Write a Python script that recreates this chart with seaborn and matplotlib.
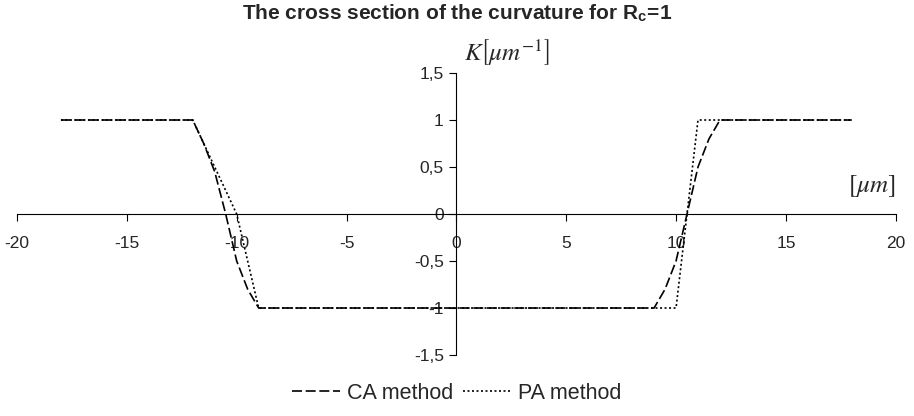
import numpy as np
import pandas as pd
import matplotlib
matplotlib.use("Agg")
import matplotlib.pyplot as plt
from matplotlib.ticker import FuncFormatter
import seaborn as sns

# Curvature cross sections for the two methods
ca_x = [-18, -12, -11.5, -11, -10.5, -10, -9.5, -9, 9, 9.5, 10, 10.5, 11, 11.5, 12, 18]
ca_k = [1, 1, 0.75, 0.45, 0.0, -0.5, -0.8, -1, -1, -0.8, -0.5, 0.0, 0.5, 0.8, 1, 1]

pa_x = [-18, -12, -11.5, -11, -10.5, -10, -9.5, -9, 10, 10.5, 11, 18]
pa_k = [1, 1, 0.75, 0.5, 0.25, 0.0, -0.5, -1, -1, 0.0, 1, 1]

x_ticks = [-20, -15, -10, -5, 0, 5, 10, 15, 20]
y_ticks = [-1.5, -1, -0.5, 0, 0.5, 1, 1.5]

df = pd.concat([
    pd.DataFrame({"x": ca_x, "K": ca_k, "method": "CA method"}),
    pd.DataFrame({"x": pa_x, "K": pa_k, "method": "PA method"}),
], ignore_index=True)

sns.set_style("white")
plt.rcParams["font.family"] = ["Liberation Sans", "DejaVu Sans"]
plt.rcParams["mathtext.fontset"] = "stix"

fig = plt.figure(figsize=(9.14, 4.16), dpi=100)
ax = fig.add_axes([0.0186, 0.1466, 0.9614, 0.6779])

sns.lineplot(
    data=df, x="x", y="K", hue="method", style="method",
    palette={"CA method": "black", "PA method": "black"},
    dashes={"CA method": (6, 2.2), "PA method": (1.2, 1.5)},
    estimator=None, sort=False, linewidth=1.2, ax=ax, legend=True,
)

ax.set_xlim(-20, 20)
ax.set_ylim(-1.5, 1.5)
ax.set_xticks(x_ticks)
ax.set_yticks(y_ticks)

fmt = FuncFormatter(lambda v, p: ("%g" % v).replace(".", ","))
ax.xaxis.set_major_formatter(fmt)
ax.yaxis.set_major_formatter(fmt)

for side in ["top", "right"]:
    ax.spines[side].set_visible(False)
ax.spines["left"].set_position(("data", 0))
ax.spines["bottom"].set_position(("data", 0))
for side in ["left", "bottom"]:
    ax.spines[side].set_color("black")
    ax.spines[side].set_linewidth(0.8)

ax.tick_params(axis="x", direction="out", length=5, width=0.8, color="black",
               pad=11, labelsize=12.5, bottom=True)
ax.tick_params(axis="y", direction="out", length=5, width=0.8, color="black",
               pad=4, labelsize=12.5, left=True)
ax.set_xlabel("")
ax.set_ylabel("")

ax.text(0.35, 1.72, r"$K\left[\mu m^{-1}\right]$", fontsize=18, ha="left", va="center")
ax.text(20, 0.3, r"$\left[\mu m\right]$", fontsize=18, ha="right", va="center")

fig.suptitle(r"The cross section of the curvature for R$_\mathregular{c}$=1",
             x=0.5, y=0.995, fontsize=15, fontweight="bold", va="top")

handles, labels = ax.get_legend_handles_labels()
ax.legend_.remove()
fig.legend(handles, labels, loc="center", bbox_to_anchor=(0.5, 0.055), ncol=2,
           frameon=False, fontsize=15.5, handlelength=2.2, handletextpad=0.35,
           columnspacing=0.45)

fig.savefig("out.png", dpi=100)
